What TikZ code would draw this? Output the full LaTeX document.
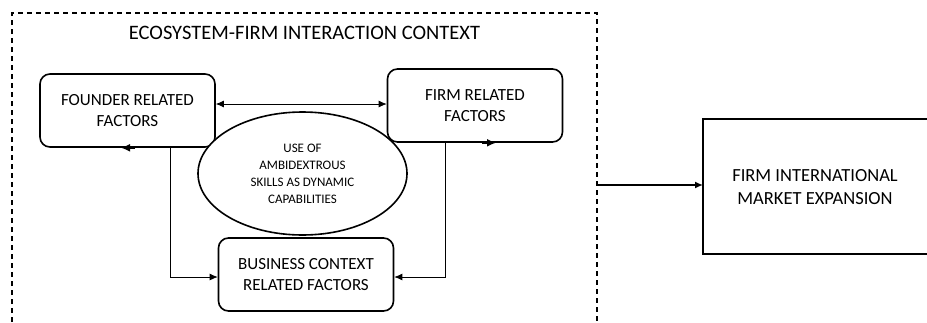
\documentclass[tikz,border=0pt]{standalone}
\usepackage{fontspec}
\setmainfont{Carlito}
\usetikzlibrary{shapes.geometric,arrows.meta}
\tikzset{
  factorbox/.style={draw, line width=1.6pt, rounded corners=10pt, align=center,
    minimum width=175pt, minimum height=73pt, inner sep=0pt,
    font=\fontsize{17}{21}\selectfont},
  link/.style={-{Latex[length=8pt,width=7pt]}, line width=0.8pt},
  edgetip/.style={-{Latex[length=9pt,width=8pt]}, line width=1.6pt}
}
\begin{document}
\begin{tikzpicture}[x=1pt, y=-1pt, >=Latex]
  \useasboundingbox (0,0) rectangle (927,322);
  % Context frame (open at the bottom)
  \draw[line width=1.5pt, dash pattern=on 5pt off 4pt] (12,322) -- (12,13) -- (597,13) -- (597,322);
  \node[font=\fontsize{20.5}{22}\selectfont] (title) at (304.5,33) {ECOSYSTEM-FIRM INTERACTION CONTEXT};
  % Factors
  \node[factorbox] (founder) at (127.5,110.5) {FOUNDER RELATED\\FACTORS};
  \node[factorbox] (firm) at (475,105.5) {FIRM RELATED\\FACTORS};
  \node[factorbox] (business) at (306,274.5) {BUSINESS CONTEXT\\RELATED FACTORS};
  \node[ellipse, draw, line width=1.6pt, fill=white, minimum width=209pt, minimum height=123pt,
    inner sep=0pt, align=center, font=\fontsize{13}{17}\selectfont]
    (skills) at (302.5,173.5) {USE OF\\AMBIDEXTROUS\\SKILLS AS DYNAMIC\\CAPABILITIES};
  % Outcome (runs past the right edge)
  \node[align=center, font=\fontsize{18.5}{23}\selectfont] (expansion) at (815,187.5)
    {FIRM INTERNATIONAL\\MARKET EXPANSION};
  \draw[line width=1.6pt] (935,119) -- (703,119) -- (703,254) -- (935,254);
  \coordinate (frameout) at (597,185);
  \coordinate (expin) at (703,185);
  % Connectors
  \draw[{Latex[length=8pt,width=7pt]}-{Latex[length=8pt,width=7pt]}, line width=0.8pt]
    (founder.east |- 0,104) -- (firm.west |- 0,104);
  \draw[link] (founder.south -| 170,0) |- (business.west |- 0,277);
  \draw[link] (firm.south -| 445,0) |- (business.east |- 0,277);
  \draw[link, line width=1.5pt] (frameout) -- (expin);
  % Tips on the bottom edges
  \draw[edgetip] (founder.south -| 135,0) -- (founder.south -| 121,0);
  \draw[edgetip] (firm.south -| 482,0) -- (firm.south -| 496,0);
\end{tikzpicture}
\end{document}
